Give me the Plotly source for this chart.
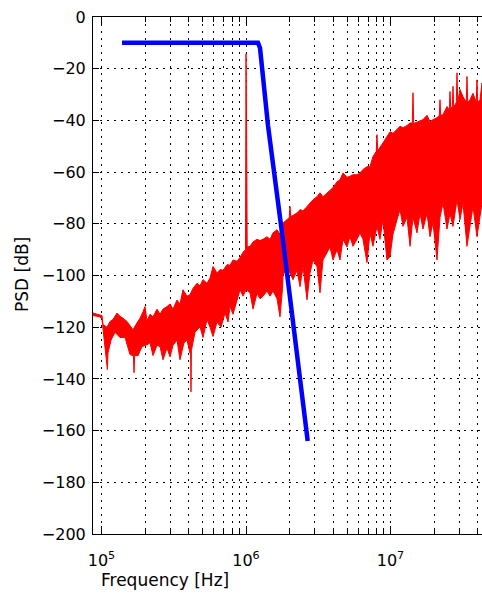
import plotly.graph_objects as go

# ---- red PSD: upper and lower envelope of the noisy spectrum (Hz, dB) ----
upper_freq = [87300, 93100, 97600, 100800, 102400, 109200, 114500, 120100, 128000, 134300,
              140900, 150200, 157500, 165200, 176100, 184700, 193800, 200000, 206500, 216600,
              227200, 242200, 254000, 266500, 284000, 297900, 312400, 333000, 349300, 366400,
              390500, 409600, 429700, 458000, 480400, 503900, 537300, 563600, 591200, 630200,
              661100, 693500, 739100, 775400, 813300, 866900, 909300, 953800, 992100, 1000000,
              1009600, 1019300, 1065800, 1118000, 1191800, 1250300, 1311500, 1398000, 1466300, 1538000,
              1639000, 1719000, 1788900, 1803200, 1921800, 1993700, 2015800, 2038400, 2081100, 2254200,
              2364500, 2480100, 2643300, 2772600, 2908300, 3099600, 3251400, 3410400, 3635000, 3812800,
              3999300, 4262500, 4471000, 4689600, 4998200, 5242700, 5499100, 5861100, 6147700, 6448400,
              6872900, 7209000, 7561600, 7970000, 8059300, 8153100, 8320900, 8868100, 9451900, 9920600,
              10406000, 11092000, 11634000, 12203000, 13007000, 13643000, 14155000, 14310000, 14470000, 14774000,
              15749000, 16786000, 17890000, 18764000, 19682000, 20977000, 21758000, 22003000, 22249000, 23080000,
              24604000, 25526000, 25806000, 26096000, 26770000, 27069000, 27374000, 28530000, 28851000, 29174000,
              30262000, 31743000, 33457000, 33831000, 34211000, 35486000, 37223000, 39230000, 39671000, 40114000,
              41612000, 42970000]
upper_psd = [-114.5, -114.8, -115.3, -115.5, -119.0, -120.0, -117.8, -117.0, -114.5, -115.8,
             -116.5, -117.8, -119.6, -121.0, -118.3, -116.5, -114.0, -112.0, -117.5, -115.0,
             -116.0, -113.0, -115.0, -113.0, -112.0, -111.0, -113.0, -109.5, -111.0, -105.5,
             -108.0, -107.4, -105.0, -103.0, -104.0, -101.6, -103.0, -101.0, -96.5, -99.0,
             -97.7, -98.0, -95.8, -96.0, -94.0, -94.5, -93.0, -91.0, -90.0, -14.2,
             -43.6, -89.0, -88.7, -87.0, -86.0, -86.5, -86.0, -85.0, -86.0, -83.5,
             -82.3, -84.0, -84.0, -79.7, -78.4, -77.5, -73.3, -77.0, -77.0, -75.8,
             -74.5, -75.0, -73.3, -72.0, -70.7, -69.5, -68.0, -69.5, -68.0, -66.8,
             -66.0, -63.7, -63.0, -60.3, -62.0, -61.6, -61.0, -61.0, -60.3, -59.0,
             -57.9, -57.9, -54.0, -52.0, -45.5, -51.5, -51.0, -48.7, -46.3, -44.4,
             -45.0, -43.6, -42.3, -42.8, -42.0, -41.0, -41.0, -29.3, -41.0, -41.0,
             -40.5, -39.7, -38.0, -40.5, -39.7, -39.0, -38.0, -32.0, -38.0, -37.8,
             -34.6, -36.0, -28.8, -35.0, -35.0, -26.8, -35.0, -33.0, -21.6, -33.0,
             -28.0, -30.8, -33.0, -23.0, -33.0, -32.0, -29.5, -33.0, -24.3, -33.0,
             -32.0, -25.5]

lower_freq = [87300, 97600, 100800, 102400, 105700, 109850, 110900, 111970, 116300, 124000,
              134300, 145500, 157500, 166260, 167900, 169470, 178900, 190700, 206500, 216600,
              227200, 242200, 254000, 266500, 284000, 297900, 312400, 333000, 349300, 372200,
              390500, 409600, 413600, 416200, 418900, 426300, 443600, 480400, 503900, 537300,
              563600, 591200, 630200, 671700, 715900, 751000, 775400, 813300, 866900, 909300,
              953800, 1000000, 1065800, 1118000, 1191800, 1250300, 1311500, 1398000, 1466300, 1538000,
              1639000, 1719000, 1788900, 1803200, 1921800, 2015800, 2114600, 2254200, 2364500, 2480100,
              2643300, 2772600, 2908300, 3099600, 3251400, 3410400, 3635000, 3812800, 3999300, 4262500,
              4471000, 4689600, 4998200, 5242700, 5499100, 5861100, 6147700, 6448400, 6872900, 7209000,
              7561600, 8059300, 8454600, 8868100, 9451900, 9920600, 10406000, 11092000, 11634000, 12203000,
              13007000, 13643000, 14310000, 15253000, 16002000, 16786000, 17890000, 18764000, 19682000, 20977000,
              22003000, 23080000, 24604000, 25806000, 27069000, 28851000, 30262000, 31743000, 33831000, 35486000,
              37223000, 39671000, 41612000, 42970000]
lower_psd = [-115.5, -116.0, -117.0, -121.0, -126.8, -136.4, -130.0, -129.5, -125.0, -122.0,
             -124.0, -124.0, -130.6, -131.0, -137.6, -131.0, -131.0, -127.5, -126.8, -126.0,
             -131.0, -127.0, -127.5, -132.6, -128.0, -131.5, -127.0, -125.0, -132.6, -126.0,
             -125.0, -130.0, -129.0, -145.0, -129.0, -128.0, -122.0, -119.8, -124.0, -117.0,
             -120.0, -123.6, -118.0, -120.0, -114.5, -118.0, -112.0, -115.0, -109.4, -105.5,
             -108.0, -105.5, -106.7, -113.0, -107.0, -109.0, -108.0, -106.0, -108.0, -106.0,
             -109.0, -116.0, -105.0, -100.0, -96.6, -99.0, -101.6, -98.0, -104.3, -96.6,
             -109.4, -99.0, -94.0, -96.6, -106.7, -94.0, -91.2, -89.0, -94.0, -90.0,
             -94.0, -86.0, -89.0, -85.0, -88.7, -86.0, -83.5, -86.0, -95.0, -83.6,
             -88.7, -81.0, -86.0, -78.4, -94.0, -92.7, -84.0, -78.4, -74.5, -81.0,
             -77.5, -88.7, -77.5, -83.5, -76.0, -82.0, -76.0, -85.0, -79.5, -94.0,
             -77.5, -72.0, -82.0, -76.0, -81.0, -70.7, -78.4, -72.0, -88.7, -81.0,
             -73.3, -85.0, -77.5, -72.0]

# ---- blue filter response (Hz, dB) ----
filter_freq = [138700, 1211000, 1250300, 1290800, 1420000, 1774700, 2254200, 2673000]
filter_psd = [-10.0, -10.0, -12.0, -19.5, -42.0, -83.5, -129.5, -164.0]

# ---- axes ----
y_ticks = list(range(-200, 1, 20))
x_major = [1e5, 1e6, 1e7]
x_major_labels = ["10<sup>5</sup>", "10<sup>6</sup>", "10<sup>7</sup>"]
x_minor = [m * 10 ** k for k in (5, 6, 7) for m in range(2, 10) if m * 10 ** k <= 4.2e7]

poly_x = upper_freq + lower_freq[::-1]
poly_y = upper_psd + lower_psd[::-1]

fig = go.Figure()
fig.add_trace(go.Scatter(x=poly_x, y=poly_y, mode="lines", fill="toself",
                         fillcolor="#ff0000", line=dict(color="#ff0000", width=1),
                         hoverinfo="skip"))
fig.add_trace(go.Scatter(x=filter_freq, y=filter_psd, mode="lines",
                         line=dict(color="#0000ff", width=4.5)))

grid_dash = "2px,5px"
fig.update_xaxes(type="log", range=[4.9412, 7.6332],
                 tickvals=x_major, ticktext=x_major_labels,
                 ticks="inside", ticklen=8, tickwidth=1, tickcolor="black",
                 showline=True, linecolor="black", linewidth=1, mirror="ticks",
                 showgrid=True, gridcolor="black", gridwidth=1, griddash=grid_dash,
                 minor=dict(tickvals=x_minor, ticks="inside", ticklen=5, tickcolor="black",
                            showgrid=True, gridcolor="black", gridwidth=1, griddash=grid_dash),
                 ticklabelstandoff=12, zeroline=False,
                 tickfont=dict(family="DejaVu Sans", size=16, color="black"))
fig.update_yaxes(range=[-200, 0], tickvals=y_ticks,
                 ticks="inside", ticklen=6, tickwidth=1, tickcolor="black",
                 showline=True, linecolor="black", linewidth=1, mirror=False,
                 showgrid=True, gridcolor="black", gridwidth=1, griddash=grid_dash,
                 zeroline=False, ticklabelstandoff=3,
                 tickfont=dict(family="DejaVu Sans", size=16, color="black"))

fig.update_layout(
    width=482, height=594,
    margin=dict(l=93, r=0, t=17, b=60, pad=0),
    paper_bgcolor="white", plot_bgcolor="white",
    showlegend=False,
    font=dict(family="DejaVu Sans", size=16, color="black"),
    annotations=[
        dict(text="Frequency [Hz]", xref="paper", yref="paper",
             x=(165 - 93) / 389, y=-(580 - 534) / 517, xanchor="center", yanchor="middle",
             showarrow=False, font=dict(family="DejaVu Sans", size=17, color="black")),
        dict(text="PSD [dB]", xref="paper", yref="paper", textangle=-90,
             x=(22 - 93) / 389, y=(534 - 275) / 517, xanchor="center", yanchor="middle",
             showarrow=False, font=dict(family="DejaVu Sans", size=17, color="black")),
    ],
)

fig.write_html("out.html")
